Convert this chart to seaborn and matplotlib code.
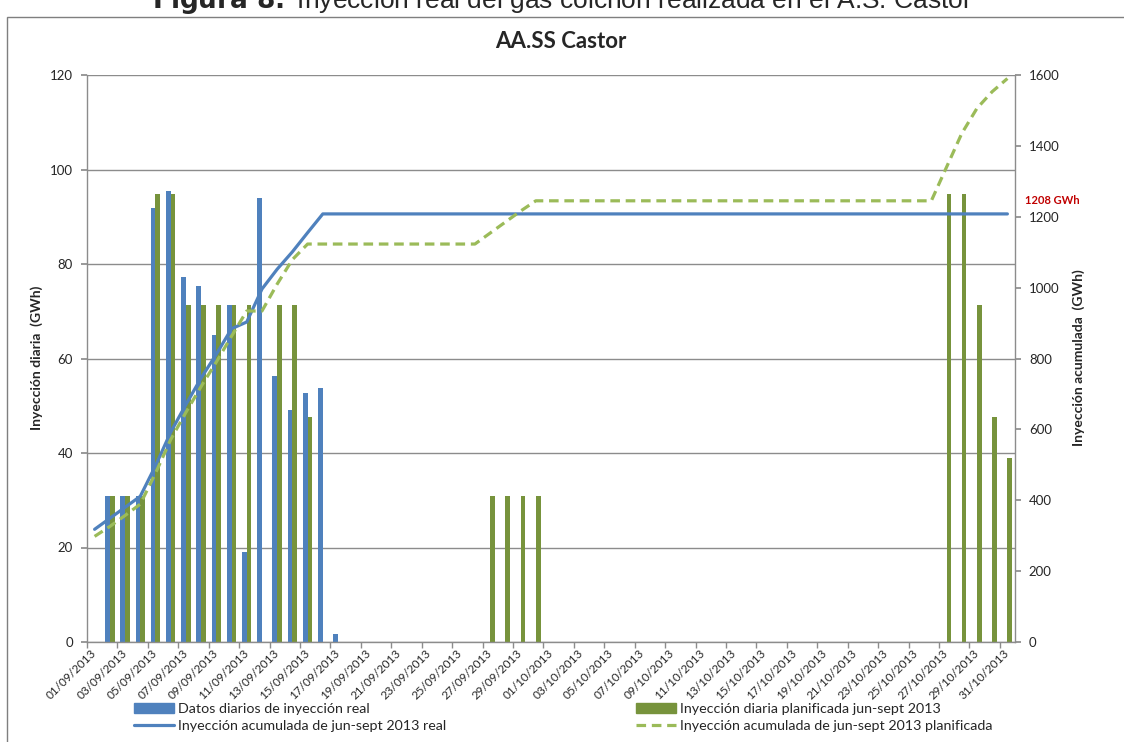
import numpy as np
import pandas as pd
import matplotlib
matplotlib.use('Agg')
import matplotlib.pyplot as plt
import matplotlib.transforms as mtransforms
from matplotlib.patches import Patch, Rectangle
from matplotlib.lines import Line2D
import seaborn as sns

# categorias: un dia por barra, 01/09/2013 .. 31/10/2013
fechas = [d.strftime('%d/%m/%Y') for d in pd.date_range('2013-09-01', '2013-10-31')]

# inyeccion diaria (GWh), eje izquierdo
real_diaria = ([0, 30.9, 30.9, 30.9, 91.9, 95.5, 77.2, 75.3, 65.0, 71.3, 19.0,
                94.0, 56.4, 49.1, 52.7, 53.7, 1.7] + [0] * 44)
plan_diaria = ([0, 30.9, 30.9, 30.9, 94.9, 94.9, 71.3, 71.3, 71.3, 71.3, 71.3,
                0, 71.3, 71.3, 47.6] + [0] * 11 + [30.9, 30.9, 30.9, 30.9]
               + [0] * 26 + [94.9, 94.9, 71.3, 47.6, 38.9])

# inyeccion acumulada (GWh), eje derecho
real_acum = ([318, 349, 380, 411, 497, 592, 670, 745, 812, 884, 903, 996,
              1052, 1101, 1155, 1208] + [1208] * 45)
plan_acum = ([298, 326, 357, 389, 476, 571, 648, 721, 790, 863, 934, 934,
              1010, 1079, 1123] + [1123] * 11 + [1154, 1185, 1216, 1245]
             + [1245] * 26 + [1340, 1435, 1506, 1553, 1590])

azul = '#4F81BD'
verde = '#77933C'
verde_claro = '#9BBB59'
gris = '#8C8C8C'

sns.set_theme(style='white')
plt.rcParams['font.family'] = ['Lato', 'DejaVu Sans']

W, H = 1124, 742
fig = plt.figure(figsize=(W / 100, H / 100), dpi=100)
ax = fig.add_axes([87 / W, 100 / H, 928 / W, 567 / H])

df = pd.DataFrame({
    'fecha': fechas * 2,
    'valor': real_diaria + plan_diaria,
    'serie': ['real'] * len(fechas) + ['plan'] * len(fechas),
})
sns.barplot(data=df, x='fecha', y='valor', hue='serie', order=fechas,
            hue_order=['real', 'plan'], palette=[azul, verde], width=0.62,
            saturation=1, linewidth=0, legend=False, ax=ax)

ax.set_xlim(-0.5, len(fechas) - 0.5)
ax.set_ylim(0, 120)
ax.set_yticks(range(0, 121, 20))
ax.yaxis.grid(True, color=gris, lw=1)
ax.set_axisbelow(True)
ax.set_xlabel('')
ax.set_ylabel('')

ax.set_xticks(range(0, len(fechas), 2))
ax.set_xticklabels(fechas[::2], rotation=45, ha='right', va='center',
                   rotation_mode='anchor', fontsize=8.5)
ax.set_xticks(np.arange(-0.5, len(fechas), 2), minor=True)
ax.tick_params(axis='x', which='major', length=0, pad=7)
ax.tick_params(axis='x', which='minor', length=4, color=gris, direction='out', bottom=True)
ax.tick_params(axis='y', length=4, color=gris, direction='out', labelsize=9.5,
               pad=6, left=True)

for s in ['top', 'right']:
    ax.spines[s].set_visible(False)
for s in ['left', 'bottom']:
    ax.spines[s].set_color(gris)
    ax.spines[s].set_linewidth(1)

ax2 = ax.twinx()
x = np.arange(len(fechas))
sns.lineplot(x=x, y=real_acum, ax=ax2, color=azul, lw=2.3)
sns.lineplot(x=x, y=plan_acum, ax=ax2, color=verde_claro, lw=2.3,
             linestyle=(0, (3, 1.8)))
ax2.set_ylim(0, 1600)
ax2.set_yticks(range(0, 1601, 200))
ax2.tick_params(axis='y', length=4, color=gris, direction='out', labelsize=9.5,
                pad=6, right=True)
for s in ['top', 'left', 'bottom']:
    ax2.spines[s].set_visible(False)
ax2.spines['right'].set_color(gris)
ax2.spines['right'].set_linewidth(1)

# etiqueta del valor final
trans = mtransforms.blended_transform_factory(ax2.transAxes, ax2.transData)
ax2.text(1.011, 1245, '1208 GWh', transform=trans, color='#C00000',
         fontsize=8, fontweight='bold', ha='left', va='center')

fig.text(37 / W, 1 - 358 / H, 'Inyección diaria  (GWh)', rotation=90,
         ha='center', va='center', fontsize=10, fontweight='bold')
fig.text(1079 / W, 1 - 358 / H, 'Inyección acumulada  (GWh)', rotation=90,
         ha='center', va='center', fontsize=10, fontweight='bold')
fig.text(561 / W, 1 - 42 / H, 'AA.SS Castor', ha='center', va='center',
         fontsize=16, fontweight='bold')

# pie de figura cortado arriba
fig.text(562 / W, 1 - 8 / H,
         r'$\bf{Figura\ 8.}$ Inyección real del gas colchón realizada en el A.S. Castor',
         ha='center', va='baseline', fontsize=19, family='Liberation Sans')

# marco del grafico
fig.add_artist(Rectangle((7 / W, -0.1), 1.2, 1.1 - 17 / H, transform=fig.transFigure,
                         fill=False, edgecolor='#7F7F7F', lw=1))

h1 = [Patch(color=azul), Line2D([], [], color=azul, lw=2.3)]
l1 = ['Datos diarios de inyección real', 'Inyección acumulada de jun-sept 2013 real']
h2 = [Patch(color=verde), Line2D([], [], color=verde_claro, lw=2.3, linestyle=(0, (3, 1.8)))]
l2 = ['Inyección diaria planificada jun-sept 2013',
      'Inyección acumulada de jun-sept 2013 planificada']
for h, l, x0 in [(h1, l1, 134), (h2, l2, 636)]:
    fig.legend(h, l, loc='upper left', bbox_to_anchor=(x0 / W, 1 - 703 / H),
               frameon=False, fontsize=10.3, handlelength=2.8, handleheight=0.7,
               labelspacing=0.35, handletextpad=0.25, borderpad=0, borderaxespad=0)

fig.savefig('out.png', dpi=100)
